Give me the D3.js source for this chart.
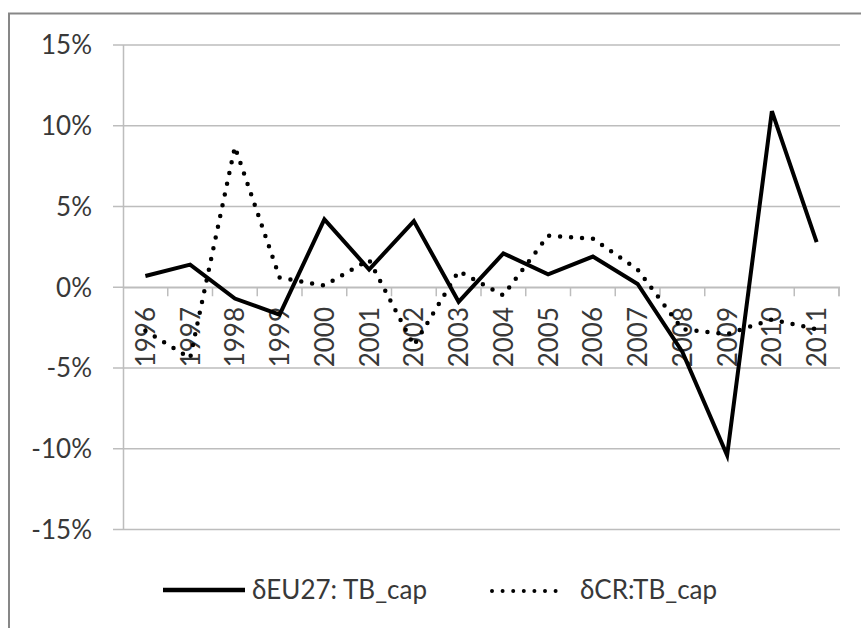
<!DOCTYPE html>
<html>
<head>
<meta charset="utf-8">
<script src="https://cdn.jsdelivr.net/npm/d3@7"></script>
<style>
  body { margin: 0; background: #fff; }
  svg { display: block; font-family: Lato, 'Open Sans', sans-serif; }
</style>
</head>
<body>
<svg id="chart"></svg>
<script>
const years = ['1996', '1997', '1998', '1999', '2000', '2001', '2002', '2003',
  '2004', '2005', '2006', '2007', '2008', '2009', '2010', '2011'];
const eu27 = [0.7, 1.4, -0.7, -1.7, 4.2, 1.1, 4.1, -0.9, 2.1, 0.8, 1.9, 0.2, -4.0, -10.4, 10.9, 2.8];
const cr = [-2.7, -4.4, 8.7, 0.6, 0.1, 1.7, -3.6, 1.0, -0.5, 3.2, 3.0, 1.1, -2.6, -2.9, -2.0, -2.6];
const yTicks = [-15, -10, -5, 0, 5, 10, 15];
const seriesNames = ['\u03b4EU27: TB_cap', '\u03b4CR:TB_cap'];

const width = 861;
const height = 628;
const textColor = '#383838';
const gridColor = '#bdbdbd';

const svg = d3.select('#chart')
  .attr('width', width)
  .attr('height', height);

// chart frame (top and left edges visible)
svg.append('path')
  .attr('d', `M9,${height} V13.5 H${width}`)
  .attr('fill', 'none')
  .attr('stroke', '#878787')
  .attr('stroke-width', 2);

const x = d3.scaleBand()
  .domain(years)
  .range([123, 839]);

const y = d3.scaleLinear()
  .domain([-15, 15])
  .range([529.5, 45]);

// gridlines
svg.append('g')
  .selectAll('line')
  .data(yTicks)
  .enter()
  .append('line')
  .attr('x1', 113)
  .attr('x2', 840)
  .attr('y1', d => y(d))
  .attr('y2', d => y(d))
  .attr('stroke', gridColor)
  .attr('stroke-width', 1.5);

// y axis line
svg.append('line')
  .attr('x1', 123.5).attr('x2', 123.5)
  .attr('y1', y(15)).attr('y2', y(-15))
  .attr('stroke', gridColor)
  .attr('stroke-width', 1.5);

// y labels
svg.append('g')
  .selectAll('text')
  .data(yTicks)
  .enter()
  .append('text')
  .attr('x', 92)
  .attr('y', d => y(d))
  .attr('dy', '0.36em')
  .attr('text-anchor', 'end')
  .attr('fill', textColor)
  .style('font-size', '26px')
  .text(d => d + '%');

// x axis at 0%
const xAxis = d3.axisBottom(x)
  .tickSize(0)
  .tickFormat('');

const xg = svg.append('g')
  .attr('transform', `translate(0,${y(0)})`)
  .call(xAxis);
xg.select('.domain').attr('stroke', gridColor).attr('stroke-width', 1.5);

svg.append('g')
  .selectAll('line')
  .data(years.map(d => x(d) + x.bandwidth()).concat([x.range()[1]]))
  .enter()
  .append('line')
  .attr('x1', d => d)
  .attr('x2', d => d)
  .attr('y1', y(0))
  .attr('y2', y(0) + 9)
  .attr('stroke', gridColor)
  .attr('stroke-width', 1.5);

// x labels, rotated
svg.append('g')
  .selectAll('text')
  .data(years)
  .enter()
  .append('text')
  .attr('transform', d => `translate(${x(d) + x.bandwidth() / 2},307) rotate(-90)`)
  .attr('dy', '0.36em')
  .attr('text-anchor', 'end')
  .attr('fill', textColor)
  .style('font-size', '26px')
  .text(d => d);

const line = d3.line()
  .x((d, i) => x(years[i]) + x.bandwidth() / 2)
  .y(d => y(d));

// EU27 solid
svg.append('path')
  .datum(eu27)
  .attr('d', line)
  .attr('fill', 'none')
  .attr('stroke', '#000')
  .attr('stroke-width', 4);

// CR dotted
svg.append('path')
  .datum(cr)
  .attr('d', line)
  .attr('fill', 'none')
  .attr('stroke', '#000')
  .attr('stroke-width', 4.5)
  .attr('stroke-linecap', 'round')
  .attr('stroke-dasharray', '0 11');

// Legend
const legend = svg.append('g');
legend.append('line')
  .attr('x1', 163).attr('x2', 245)
  .attr('y1', 590).attr('y2', 590)
  .attr('stroke', '#000')
  .attr('stroke-width', 4.5);
legend.append('text')
  .attr('x', 252)
  .attr('y', 590)
  .attr('dy', '0.36em')
  .attr('fill', textColor)
  .style('font-size', '26px')
  .text(seriesNames[0]);
legend.append('line')
  .attr('x1', 492).attr('x2', 556)
  .attr('y1', 591).attr('y2', 591)
  .attr('stroke', '#000')
  .attr('stroke-width', 4)
  .attr('stroke-linecap', 'round')
  .attr('stroke-dasharray', '0 10.6');
legend.append('text')
  .attr('x', 580)
  .attr('y', 590)
  .attr('dy', '0.36em')
  .attr('fill', textColor)
  .style('font-size', '26px')
  .text(seriesNames[1]);
</script>
</body>
</html>
